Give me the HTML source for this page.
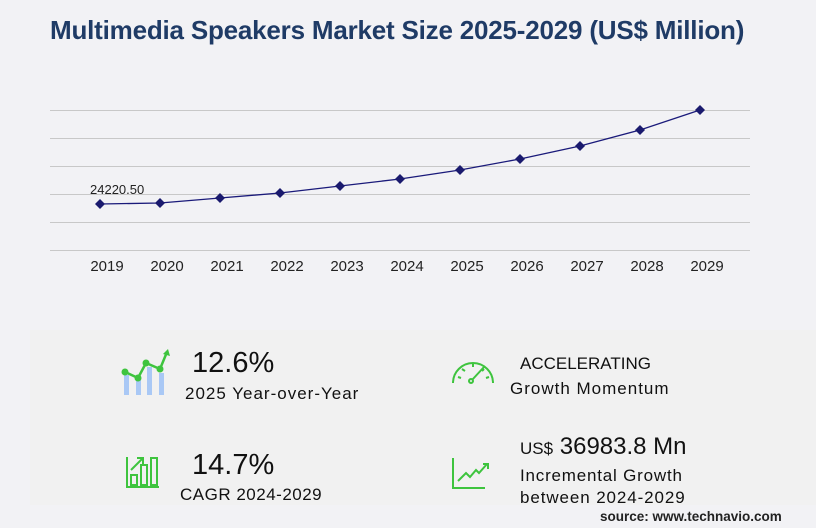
<!DOCTYPE html>
<html><head><meta charset="utf-8"><style>
body{margin:0;width:816px;height:528px;background:#f2f2f5;font-family:"Liberation Sans",sans-serif;overflow:hidden;position:relative}
.t{position:absolute;white-space:nowrap;color:#111}
</style></head><body>
<div class="t" style="left:50px;top:15px;font-size:26px;font-weight:bold;color:#1f3b66;letter-spacing:-0.2px">Multimedia Speakers Market Size 2025-2029 (US$ Million)</div>
<div style="position:absolute;left:30px;top:330px;width:786px;height:175px;background:#f1f1f1"></div>
<svg style="position:absolute;left:0;top:0" width="816" height="300">
<g stroke="#c8c8c8" stroke-width="1">
<line x1="50" x2="750" y1="110.5" y2="110.5"/><line x1="50" x2="750" y1="138.5" y2="138.5"/>
<line x1="50" x2="750" y1="166.5" y2="166.5"/><line x1="50" x2="750" y1="194.5" y2="194.5"/>
<line x1="50" x2="750" y1="222.5" y2="222.5"/><line x1="50" x2="750" y1="250.5" y2="250.5"/>
</g>
<polyline fill="none" stroke="#1a1a7a" stroke-width="1.3" points="100,204 160,203 220,198 280,193 340,186 400,179 460,170 520,159 580,146 640,130 700,110"/>
<g fill="#1a1a6e">
<path d="M100 199l5 5-5 5-5-5z"/><path d="M160 198l5 5-5 5-5-5z"/><path d="M220 193l5 5-5 5-5-5z"/>
<path d="M280 188l5 5-5 5-5-5z"/><path d="M340 181l5 5-5 5-5-5z"/><path d="M400 174l5 5-5 5-5-5z"/>
<path d="M460 165l5 5-5 5-5-5z"/><path d="M520 154l5 5-5 5-5-5z"/><path d="M580 141l5 5-5 5-5-5z"/>
<path d="M640 125l5 5-5 5-5-5z"/><path d="M700 105l5 5-5 5-5-5z"/>
</g>
<text x="90" y="194" font-size="13" fill="#222" font-family="Liberation Sans">24220.50</text>
<g font-size="15" fill="#222" font-family="Liberation Sans" text-anchor="middle">
<text x="107" y="271">2019</text><text x="167" y="271">2020</text><text x="227" y="271">2021</text><text x="287" y="271">2022</text><text x="347" y="271">2023</text><text x="407" y="271">2024</text><text x="467" y="271">2025</text><text x="527" y="271">2026</text><text x="587" y="271">2027</text><text x="647" y="271">2028</text><text x="707" y="271">2029</text>
</g>
</svg>
<svg style="position:absolute;left:0;top:0" width="816" height="528">
<g fill="#a9c8f5"><rect x="124" y="375" width="5" height="20"/><rect x="136" y="380" width="5" height="15"/><rect x="147" y="367" width="5" height="28"/><rect x="159" y="373" width="5" height="22"/></g>
<polyline points="125,372 138,378 146,363 160,369 167,352" fill="none" stroke="#3ec43e" stroke-width="2.5"/>
<g fill="#3ec43e"><circle cx="125" cy="372" r="3.5"/><circle cx="138" cy="378" r="3.5"/><circle cx="146" cy="363" r="3.5"/><circle cx="160" cy="369" r="3.5"/><path d="M163 354l5-5 2 7z"/></g>
<g fill="none" stroke="#3ec43e" stroke-width="2">
<path d="M127 457v30h32"/><rect x="131" y="475" width="6" height="10"/><rect x="141" y="465" width="6" height="20"/><rect x="151" y="458" width="6" height="27"/><path d="M131 470l12-12M137 458h6v6"/>
<path d="M453 383a20 20 0 0 1 40 0"/><path d="M472 380l12-13"/><circle cx="471" cy="381" r="2"/>
<path d="M453 458v30h32"/><path d="M458 481l8-8 4 4 6-7 3 3 8-9M483 464h5v5"/>
</g>
<g stroke="#3ec43e" stroke-width="2"><path d="M458 377l3 1M462 369l3 2M473 364v3M484 369l-2 2M489 377l-3 1"/></g>
</svg>
<div class="t" style="left:192px;top:347px;font-size:29px">12.6%</div>
<div class="t" style="left:185px;top:384px;font-size:17px;letter-spacing:1px">2025 Year-over-Year</div>
<div class="t" style="left:192px;top:449px;font-size:29px">14.7%</div>
<div class="t" style="left:180px;top:485px;font-size:17px;letter-spacing:0.5px">CAGR 2024-2029</div>
<div class="t" style="left:520px;top:354px;font-size:17px">ACCELERATING</div>
<div class="t" style="left:510px;top:379px;font-size:17px;letter-spacing:1px">Growth Momentum</div>
<div class="t" style="left:520px;top:433px;font-size:24px"><span style="font-size:17px">US$</span> 36983.8 Mn</div>
<div class="t" style="left:520px;top:466px;font-size:17px;letter-spacing:0.8px">Incremental Growth</div>
<div class="t" style="left:520px;top:488px;font-size:17px;letter-spacing:0.9px">between 2024-2029</div>
<div class="t" style="left:600px;top:509px;font-size:13.5px;font-weight:bold;color:#222">source: www.technavio.com</div>
</body></html>
